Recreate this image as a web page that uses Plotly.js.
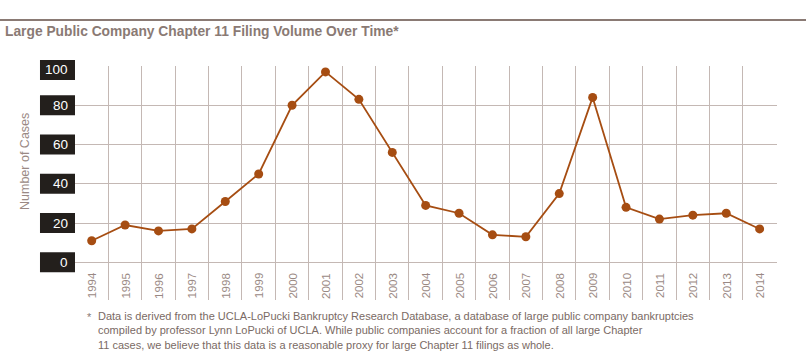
<!DOCTYPE html>
<html><head><meta charset="utf-8">
<script src="https://cdn.plot.ly/plotly-3.0.1.min.js"></script>
<style>html,body{margin:0;padding:0;background:#fff}#chart{width:806px;height:362px}</style>
</head><body><div id="chart"></div>
<script>
const years = [1994,1995,1996,1997,1998,1999,2000,2001,2002,2003,2004,2005,2006,2007,2008,2009,2010,2011,2012,2013,2014];
const cases = [11,19,16,17,31,45,80,97,83,56,29,25,14,13,35,84,28,22,24,25,17];
const yTicks = [0,20,40,60,80,100];
const titleText = 'Large Public Company Chapter 11 Filing Volume Over Time*';
const yTitle = 'Number of Cases';
const footLines = [
  'Data is derived from the UCLA-LoPucki Bankruptcy Research Database, a database of large public company bankruptcies',
  'compiled by professor Lynn LoPucki of UCLA. While public companies account for a fraction of all large Chapter',
  '11 cases, we believe that this data is a reasonable proxy for large Chapter 11 filings as whole.'
];

const W = 806, H = 362;
const M = {l:75, r:29.3, t:66, b:62};
const PW = W - M.l - M.r, PH = H - M.t - M.b;
const YR = [-19.2, 100];
const px2x = p => (p - M.l) / PW;
const px2y = p => (H - M.b - p) / PH;
const v2py = v => (v - YR[0]) / (YR[1] - YR[0]);

const brown = '#a64d12';
const txt = '#8a7a74';
const gridC = '#c4b8b4';
const FONT = 'Liberation Sans, Arial, sans-serif';

const shapes = [];
const annotations = [];

// top rule
shapes.push({type:'line', xref:'paper', yref:'paper', x0:px2x(0), x1:px2x(W), y0:px2y(20), y1:px2y(20), line:{color:'#8a7a74', width:2}});

// y label boxes
yTicks.forEach(v => {
  let c = v2py(v);
  if (v === 100) c = v2py(98);
  const half = 10 / PH;
  shapes.push({type:'rect', xref:'paper', yref:'paper', x0:px2x(40), x1:px2x(75), y0:c-half, y1:c+half, fillcolor:'#231f1c', line:{width:0}, layer:'above'});
  annotations.push({xref:'paper', yref:'paper', x:px2x(70.5), y:c, xanchor:'right', yanchor:'middle', text:String(v), showarrow:false, font:{family:FONT, size:13.5, color:'#ffffff'}});
});

// x tick labels
years.forEach(yr => {
  annotations.push({xref:'x', yref:'paper', x:yr, y:px2y(285.5), xanchor:'center', yanchor:'middle', textangle:-90, text:String(yr), showarrow:false, font:{family:FONT, size:11.5, color:'#9a8984'}});
});

// y title
annotations.push({xref:'paper', yref:'paper', x:px2x(25), y:px2y(161), xanchor:'center', yanchor:'middle', textangle:-90, text:yTitle, showarrow:false, font:{family:FONT, size:12.5, color:'#9a8984'}});

// footnote
annotations.push({xref:'paper', yref:'paper', x:px2x(85), y:px2y(309), xanchor:'left', yanchor:'top', text:'*', showarrow:false, font:{family:FONT, size:11, color:txt}});
annotations.push({xref:'paper', yref:'paper', x:px2x(96), y:px2y(307.5), xanchor:'left', yanchor:'top', align:'left', text:footLines.join('<br>'), showarrow:false, font:{family:FONT, size:11, color:'#7a6a64'}});

const gridVals = years.map(y => y + 0.5);

const data = [{
  x: years, y: cases, type:'scatter', mode:'lines+markers',
  line:{color:brown, width:1.8}, marker:{color:brown, size:9},
  hoverinfo:'x+y', cliponaxis:false
}];

const layout = {
  width:W, height:H, margin:M,
  paper_bgcolor:'#ffffff', plot_bgcolor:'#ffffff',
  showlegend:false,
  title:{text:'<b>'+titleText+'</b>', xref:'container', yref:'container', x:5/W, xanchor:'left', y:1-31.5/H, yanchor:'middle', font:{family:FONT, size:13.8, color:txt}},
  xaxis:{range:[1993.5, 2014.52], tickvals:gridVals, showticklabels:false, ticks:'', showgrid:true, gridcolor:gridC, gridwidth:1, zeroline:false, showline:false, fixedrange:true},
  yaxis:{range:YR, tickvals:yTicks, showticklabels:false, ticks:'', showgrid:true, gridcolor:gridC, gridwidth:1, zeroline:false, showline:false, fixedrange:true},
  shapes: shapes,
  annotations: annotations
};

Plotly.newPlot('chart', data, layout, {displayModeBar:false, staticPlot:true});
</script></body></html>
